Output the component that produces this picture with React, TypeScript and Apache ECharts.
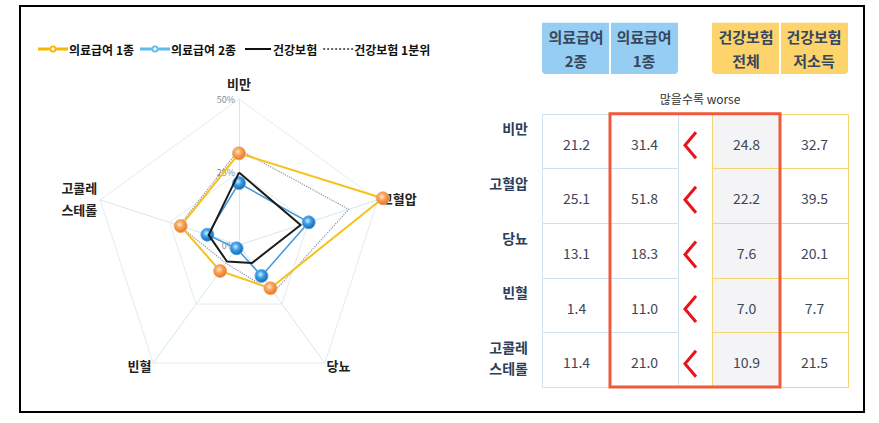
import React, { useEffect, useRef } from 'react';
import * as echarts from 'echarts';

// ---------- data ----------
const categories = ['비만', '고혈압', '당뇨', '빈혈', '고콜레\n스테롤'];
const medicalAid2 = [21.2, 25.1, 13.1, 1.4, 11.4]; // 의료급여 2종
const medicalAid1 = [31.4, 51.8, 18.3, 11.0, 21.0]; // 의료급여 1종
const healthAll = [24.8, 22.2, 7.6, 7.0, 10.9]; // 건강보험 (전체)
const healthLow = [32.7, 39.5, 20.1, 7.7, 21.5]; // 건강보험 1분위 (저소득)
const seriesNames = ['의료급여 1종', '의료급여 2종', '건강보험', '건강보험 1분위'];
const tableHeaders = ['의료급여\n2종', '의료급여\n1종', '건강보험\n전체', '건강보험\n저소득'];
const radarMax = 50;
const noteText = '많을수록 worse';

// radar axes go counter-clockwise from the top
const displayOrder = [0, 4, 3, 2, 1];

// ---------- layout / style ----------
const FONT = "'Noto Sans CJK KR', 'Noto Sans', sans-serif";
const tableCols = [medicalAid2, medicalAid1, healthAll, healthLow];
const colSpans = [[0, 2], [2, 4], [5, 7], [7, 9]];
const arrowSpan = [4, 5];
const headerBand = [-1.67, -0.73];
const colBorder = ['#cfe2f0', '#cfe2f0', '#f6d46e', '#f6d46e'];
const colFill = ['#ffffff', '#ffffff', '#f4f4f6', '#ffffff'];
const headerFill = ['#96cdf3', '#96cdf3', '#fdd36c', '#fdd36c'];

const iconLineDot =
  'path://M0,0M30,10M0,3.6H11.5V6.4H0Z M18.5,3.6H30V6.4H18.5Z M11.5,5A3.5,3.5,0,1,0,18.5,5A3.5,3.5,0,1,0,11.5,5Z M13.3,5A1.7,1.7,0,1,1,16.7,5A1.7,1.7,0,1,1,13.3,5Z';
const iconLine = 'path://M0,0M30,10M3,4H29V6H3Z';
const iconDots =
  'path://M0,0M30,10' +
  [0, 4, 8, 12, 16, 20, 24, 28].map((x) => `M${x},4.2h2v1.6h-2Z`).join(' ');

const orangeGrad = new echarts.graphic.RadialGradient(0.42, 0.38, 0.62, [
  { offset: 0, color: '#fde4c8' },
  { offset: 0.45, color: '#f7a35c' },
  { offset: 1, color: '#e9741f' },
]);
const blueGrad = new echarts.graphic.RadialGradient(0.42, 0.38, 0.62, [
  { offset: 0, color: '#c8ecff' },
  { offset: 0.45, color: '#3a9de6' },
  { offset: 1, color: '#1467b3' },
]);

function ordered(arr: number[]) {
  return displayOrder.map((k) => arr[k]);
}

function buildOption(): any {
  const indicator = displayOrder.map((k, i) => {
    const ind: any = { name: categories[k], min: 0, max: radarMax };
    if (i === 0) {
      ind.axisLabel = {
        show: true,
        formatter: '{value}%',
        color: '#8a8a8a',
        fontSize: 9,
        fontFamily: FONT,
        margin: 4,
      };
    }
    return ind;
  });

  const cellData: number[][] = [];
  tableCols.forEach((col, c) => col.forEach((v, r) => cellData.push([c, r, v])));

  return {
    animation: false,
    backgroundColor: '#ffffff',
    legend: {
      left: 33,
      top: 38,
      itemWidth: 30,
      itemHeight: 10,
      itemGap: 6,
      selectedMode: false,
      textStyle: { fontSize: 12, fontWeight: 'bold', color: '#111', fontFamily: FONT, padding: [0, 0, 0, -4] },
      data: [
        { name: seriesNames[0], icon: iconLineDot, itemStyle: { color: '#f5b800', borderWidth: 0 } },
        { name: seriesNames[1], icon: iconLineDot, itemStyle: { color: '#5cbcea', borderWidth: 0 } },
        { name: seriesNames[2], icon: iconLine, itemStyle: { color: '#111111', borderWidth: 0 } },
        { name: seriesNames[3], icon: iconDots, itemStyle: { color: '#333333', borderWidth: 0 } },
      ],
    },
    radar: {
      center: [239, 245],
      radius: 146,
      startAngle: 90,
      splitNumber: 2,
      shape: 'polygon',
      nameGap: 3,
      axisName: { color: '#222', fontSize: 13, fontWeight: 'bold', fontFamily: FONT, lineHeight: 22 },
      axisLine: { lineStyle: { color: '#d3e7f1', width: 1 } },
      splitLine: { lineStyle: { color: ['#e3ecf0', '#e3ecf0'], width: 1 } },
      splitArea: { show: false },
      axisLabel: { show: false },
      axisTick: { show: false },
      indicator,
    },
    grid: { left: 542, width: 306, top: 21, height: 366 },
    xAxis: { type: 'value', min: 0, max: 9, show: false },
    yAxis: { type: 'value', min: -1.7, max: 5, inverse: true, show: false },
    series: [
      {
        type: 'radar',
        z: 2,
        symbol: 'none',
        lineStyle: { color: '#8d93a3', width: 1.2, type: 'dotted' },
        itemStyle: { color: '#333333' },
        data: [{ name: seriesNames[3], value: ordered(healthLow) }],
      },
      {
        type: 'radar',
        z: 3,
        symbol: 'circle',
        symbolSize: 13,
        lineStyle: { color: '#f6c21a', width: 2 },
        itemStyle: { color: orangeGrad, borderColor: '#f2a868', borderWidth: 0.8 },
        data: [{ name: seriesNames[0], value: ordered(medicalAid1) }],
      },
      {
        type: 'radar',
        z: 4,
        symbol: 'circle',
        symbolSize: 13,
        lineStyle: { color: '#3f97dc', width: 1.5 },
        itemStyle: { color: blueGrad, borderColor: '#5aaee8', borderWidth: 0.8 },
        data: [{ name: seriesNames[1], value: ordered(medicalAid2) }],
      },
      {
        type: 'radar',
        z: 5,
        symbol: 'none',
        lineStyle: { color: '#1b1b1b', width: 2 },
        itemStyle: { color: '#111111' },
        data: [{ name: seriesNames[2], value: ordered(healthAll) }],
      },
      // table headers
      {
        type: 'custom',
        coordinateSystem: 'cartesian2d',
        z: 2,
        silent: true,
        data: tableHeaders.map((_, c) => [c, headerBand[0]]),
        renderItem: (params: any, api: any) => {
          const c = api.value(0) as number;
          const span = colSpans[c];
          const p0 = api.coord([span[0], headerBand[0]]);
          const p1 = api.coord([span[1], headerBand[1]]);
          const leftOfPair = c % 2 === 0;
          return {
            type: 'group',
            children: [
              {
                type: 'rect',
                shape: {
                  x: p0[0] + (leftOfPair ? 0 : 1),
                  y: p0[1],
                  width: p1[0] - p0[0] - 1,
                  height: p1[1] - p0[1],
                  r: leftOfPair ? [0, 0, 0, 4] : [0, 0, 4, 0],
                },
                style: { fill: headerFill[c] },
              },
              {
                type: 'text',
                x: (p0[0] + p1[0]) / 2,
                y: (p0[1] + p1[1]) / 2,
                style: {
                  text: tableHeaders[c],
                  fill: '#36475c',
                  fontSize: 15,
                  fontWeight: 'bold',
                  fontFamily: FONT,
                  lineHeight: 24,
                  align: 'center',
                  verticalAlign: 'middle',
                },
              },
            ],
          };
        },
      },
      // note text
      {
        type: 'custom',
        coordinateSystem: 'cartesian2d',
        silent: true,
        data: [[4.65, -0.29]],
        renderItem: (params: any, api: any) => {
          const p = api.coord([api.value(0), api.value(1)]);
          return {
            type: 'text',
            x: p[0],
            y: p[1],
            style: {
              text: noteText,
              fill: '#333',
              fontSize: 12,
              fontFamily: FONT,
              align: 'center',
              verticalAlign: 'middle',
            },
          };
        },
      },
      // table cells
      {
        type: 'custom',
        coordinateSystem: 'cartesian2d',
        z: 2,
        silent: true,
        data: cellData,
        renderItem: (params: any, api: any) => {
          const c = api.value(0) as number;
          const r = api.value(1) as number;
          const v = api.value(2) as number;
          const span = colSpans[c];
          const p0 = api.coord([span[0], r]);
          const p1 = api.coord([span[1], r + 1]);
          const x0 = Math.round(p0[0]) + 0.5;
          const y0 = Math.round(p0[1]) + 0.5;
          const x1 = Math.round(p1[0]) + 0.5;
          const y1 = Math.round(p1[1]) + 0.5;
          return {
            type: 'group',
            children: [
              {
                type: 'rect',
                shape: { x: x0, y: y0, width: x1 - x0, height: y1 - y0 },
                style: { fill: colFill[c], stroke: colBorder[c], lineWidth: 1 },
              },
              {
                type: 'text',
                x: (x0 + x1) / 2,
                y: (y0 + y1) / 2 + 2,
                style: {
                  text: v.toFixed(1),
                  fill: '#3d4758',
                  fontSize: 14,
                  fontFamily: FONT,
                  align: 'center',
                  verticalAlign: 'middle',
                },
              },
            ],
          };
        },
      },
      // row labels
      {
        type: 'custom',
        coordinateSystem: 'cartesian2d',
        z: 2,
        silent: true,
        data: categories.map((_, r) => [0, r]),
        renderItem: (params: any, api: any) => {
          const r = api.value(1) as number;
          const p = api.coord([0, r]);
          return {
            type: 'text',
            x: p[0] - 14,
            y: p[1] + 4,
            style: {
              text: categories[r],
              fill: '#2c3e5a',
              fontSize: 14,
              fontWeight: 'bold',
              fontFamily: FONT,
              lineHeight: 21,
              align: 'right',
              verticalAlign: 'top',
            },
          };
        },
      },
      // comparison arrows
      {
        type: 'custom',
        coordinateSystem: 'cartesian2d',
        z: 3,
        silent: true,
        data: categories.map((_, r) => [arrowSpan[0], r]),
        renderItem: (params: any, api: any) => {
          const r = api.value(1) as number;
          const p0 = api.coord([arrowSpan[0], r]);
          const p1 = api.coord([arrowSpan[1], r + 1]);
          const cx = (p0[0] + p1[0]) / 2;
          const cy = (p0[1] + p1[1]) / 2 + 4;
          return {
            type: 'polyline',
            shape: {
              points: [
                [cx + 1, cy - 13],
                [cx - 10, cy],
                [cx + 1, cy + 13],
              ],
            },
            style: { stroke: '#e8141c', lineWidth: 3, fill: 'none', lineJoin: 'miter' },
          };
        },
      },
      // highlight box
      {
        type: 'custom',
        coordinateSystem: 'cartesian2d',
        z: 4,
        silent: true,
        data: [[colSpans[1][0], 0, colSpans[2][1], categories.length]],
        renderItem: (params: any, api: any) => {
          const p0 = api.coord([api.value(0), api.value(1)]);
          const p1 = api.coord([api.value(2), api.value(3)]);
          return {
            type: 'rect',
            shape: { x: p0[0], y: p0[1], width: p1[0] - p0[0], height: p1[1] - p0[1] },
            style: { fill: 'none', stroke: '#f05a3a', lineWidth: 3 },
          };
        },
      },
    ],
    graphic: [
      {
        type: 'rect',
        silent: true,
        z: 10,
        shape: { x: 20, y: 6, width: 844, height: 406 },
        style: { fill: 'none', stroke: '#000', lineWidth: 2 },
      },
    ],
  };
}

export default function App() {
  const ref = useRef<HTMLDivElement>(null);
  useEffect(() => {
    if (!ref.current) return;
    const chart = echarts.init(ref.current, null, { renderer: 'svg' });
    chart.setOption(buildOption());
    return () => chart.dispose();
  }, []);
  return (
    <div
      ref={ref}
      style={{ position: 'fixed', left: 0, top: 0, width: 879, height: 423, background: '#fff' }}
    />
  );
}
